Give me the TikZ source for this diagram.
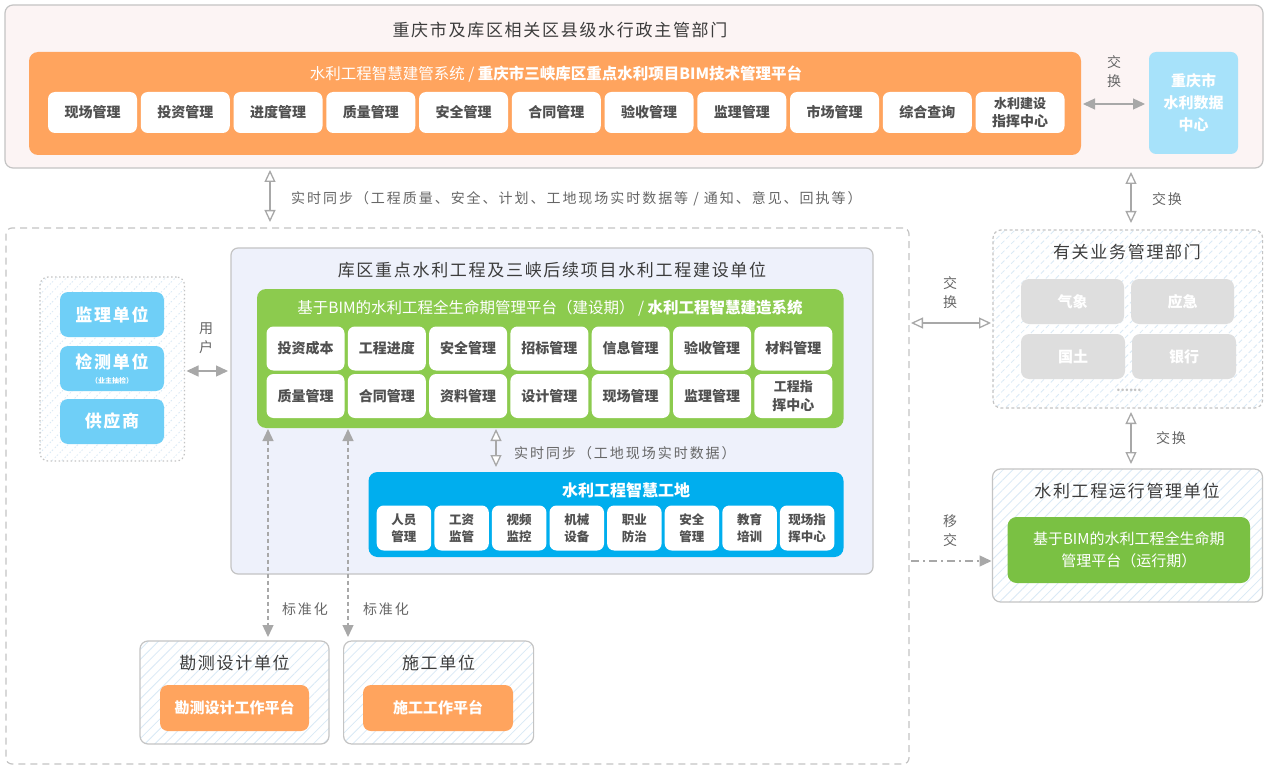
\documentclass[tikz,border=0pt]{standalone}
\usepackage{fontspec}
\setmainfont{Noto Sans CJK SC}
\newfontfamily\wide[LetterSpace=10]{Noto Sans CJK SC}
\newfontfamily\widelab[LetterSpace=14]{Noto Sans CJK SC}
\usetikzlibrary{arrows.meta,patterns.meta}
\definecolor{orangec}{HTML}{FFA45E}
\definecolor{pinkc}{HTML}{FCF4F4}
\definecolor{bordc}{HTML}{C4C4C4}
\definecolor{dcblue}{HTML}{A7E2FA}
\definecolor{unitc}{HTML}{EEF1FB}
\definecolor{greenc}{HTML}{8CCB4E}
\definecolor{bluec}{HTML}{00AEEE}
\definecolor{lbluec}{HTML}{6FCFF7}
\definecolor{hatchc}{HTML}{D9E9F6}
\definecolor{grayboxc}{HTML}{DEDEDE}
\definecolor{opgreenc}{HTML}{7AC143}
\definecolor{txtc}{HTML}{505050}
\definecolor{titlec}{HTML}{3C3C3C}
\definecolor{labc}{HTML}{666666}
\definecolor{arrc}{HTML}{A8A8A8}
\begin{document}
\begin{tikzpicture}[x=1pt,y=-1pt,
  panel/.style={rectangle,inner sep=0pt,outer sep=0pt},
  hatched/.style={preaction={fill=white},pattern={Lines[angle=45,distance=7pt,line width=0.8pt]},pattern color=hatchc},
  modbox/.style={panel,fill=white,rounded corners=7pt,text=txtc,align=center},
  topmod/.style={modbox,minimum width=89pt,minimum height=41pt,font=\fontsize{14}{18}\selectfont\bfseries},
  greenmod/.style={modbox,minimum width=78pt,minimum height=44pt,font=\fontsize{14}{19}\selectfont\bfseries},
  bluemod/.style={modbox,minimum width=54.5pt,minimum height=45pt,font=\fontsize{12.5}{17}\selectfont\bfseries},
  titletext/.style={text=titlec,font=\wide\fontsize{17}{20}\selectfont,inner sep=0pt},
  labtext/.style={text=labc,font=\widelab\fontsize{14}{19}\selectfont,inner sep=0pt,align=center},
  openarr/.style={draw=arrc,line width=1.3pt,{Triangle[open,width=11pt,length=12pt,fill=white]}-{Triangle[open,width=11pt,length=12pt,fill=white]}},
  fillarr/.style={draw=arrc,line width=1.3pt,{Triangle[width=11pt,length=12pt]}-{Triangle[width=11pt,length=12pt]}},
  lbox/.style={panel,fill=lbluec,rounded corners=8pt,minimum width=104pt,minimum height=45pt,text=white,align=center,font=\wide\fontsize{17}{20}\selectfont\bfseries},
  graybox/.style={panel,fill=grayboxc,rounded corners=8pt,minimum height=45pt,text=white,font=\fontsize{15}{18}\selectfont\bfseries},
  platbox/.style={panel,fill=orangec,rounded corners=8pt,minimum height=46pt,text=white,font=\fontsize{15}{18}\selectfont\bfseries}
]
\fill[white] (0,0) rectangle (1269,770);
\useasboundingbox (0,0) rectangle (1269,770);

% ---------- top section ----------
\node[panel,draw=bordc,line width=1.2pt,fill=pinkc,rounded corners=8pt,minimum width=1258pt,minimum height=163pt] (topbox) at (634,86.5) {};
\node[titletext] (toptitle) at (560,30) {重庆市及库区相关区县级水行政主管部门};
\node[panel,fill=orangec,rounded corners=9pt,minimum width=1052pt,minimum height=103pt] (orange) at (555,103.5) {};
\node[text=white,font=\fontsize{15.5}{18}\selectfont,inner sep=0pt] (orangetitle) at (556,74) {水利工程智慧建管系统 / \textbf{重庆市三峡库区重点水利项目BIM技术管理平台}};
\foreach \t [count=\i from 0] in {现场管理,投资管理,进度管理,质量管理,安全管理,合同管理,验收管理,监理管理,市场管理,综合查询,{\fontsize{13}{18}\selectfont 水利建设\\指挥中心}} {
  \node[topmod] (tm\i) at ({92.5+92.75*\i},112.5) {\t};
}
\node[panel,fill=dcblue,rounded corners=7pt,minimum width=89pt,minimum height=102pt,text=white,align=center,font=\fontsize{15}{22}\selectfont\bfseries] (datacenter) at (1193.5,103) {重庆市\\水利数据\\中心};
\coordinate (y104) at (0,104);
\draw[fillarr,shorten <=2pt,shorten >=4pt] (orange.east |- y104) -- (datacenter.west |- y104);
\node[labtext] (lx1) at (1114,72) {交\\换};

% ---------- middle region ----------
\node[panel,draw=bordc,line width=1.2pt,dash pattern=on 7pt off 5pt,rounded corners=6pt,minimum width=903pt,minimum height=536pt] (mid) at (457.5,496) {};

\coordinate (x270) at (270,0);
\draw[openarr,shorten <=2pt,shorten >=6pt] (topbox.south -| x270) -- (mid.north -| x270);
\node[labtext,anchor=west] (sync1) at (291,199) {实时同步（工程质量、安全、计划、工地现场实时数据等 / 通知、意见、回执等）};

% left group
\node[panel,hatched,draw=bordc,line width=1.2pt,dash pattern=on 1.5pt off 2.5pt,rounded corners=8pt,minimum width=144.5pt,minimum height=184pt] (leftbox) at (112.25,369) {};
\node[lbox] (lb1) at (112,314.5) {监理单位};
\node[lbox] (lb2) at (112,368.5) {};
\node[text=white,font=\wide\fontsize{17}{20}\selectfont\bfseries,inner sep=0pt] (lb2a) at (112,362) {检测单位};
\node[text=white,font=\fontsize{7}{8}\selectfont\bfseries,inner sep=0pt] (lb2b) at (112,381) {（业主抽检）};
\node[lbox] (lb3) at (112,421.5) {供应商};

% construction unit
\node[panel,draw=bordc,line width=1.2pt,fill=unitc,rounded corners=7pt,minimum width=642pt,minimum height=326pt] (unit) at (552,411) {};
\node[titletext] (unittitle) at (552,270) {库区重点水利工程及三峡后续项目水利工程建设单位};

\coordinate (y371) at (0,371);
\draw[fillarr,shorten <=2pt,shorten >=3pt] (leftbox.east |- y371) -- (unit.west |- y371);
\node[labtext] (luser) at (206,338) {用\\户};

\node[panel,fill=greenc,rounded corners=9pt,minimum width=586.5pt,minimum height=139pt] (green) at (550.25,358.5) {};
\node[text=white,font=\fontsize{15.5}{18}\selectfont,inner sep=0pt] (greentitle) at (550,308) {基于BIM的水利工程全生命期管理平台（建设期） / \textbf{水利工程智慧建造系统}};
\foreach \t [count=\i from 0] in {投资成本,工程进度,安全管理,招标管理,信息管理,验收管理,材料管理} {
  \node[greenmod] (ga\i) at ({305.5+81.3*\i},348.5) {\t};
}
\foreach \t [count=\i from 0] in {质量管理,合同管理,资料管理,设计管理,现场管理,监理管理,{\fontsize{13}{19}\selectfont 工程指\\挥中心}} {
  \node[greenmod] (gb\i) at ({305.5+81.3*\i},396) {\t};
}

\node[panel,fill=bluec,rounded corners=9pt,minimum width=475pt,minimum height=85pt] (blue) at (606,514.5) {};
\node[text=white,font=\fontsize{16}{18}\selectfont\bfseries,inner sep=0pt] (bluetitle) at (626,490) {水利工程智慧工地};
\foreach \t [count=\i from 0] in {{人员\\管理},{工资\\监管},{视频\\监控},{机械\\设备},{职业\\防治},{安全\\管理},{教育\\培训},{现场指\\挥中心}} {
  \node[bluemod] (bm\i) at ({403.95+57.6*\i},528) {\t};
}

\coordinate (x496) at (496,0);
\draw[openarr,shorten <=1pt,shorten >=5pt] (green.south -| x496) -- (blue.north -| x496);
\node[labtext,anchor=west] (sync2) at (514,453) {实时同步（工地现场实时数据）};

% bottom units
\node[panel,hatched,draw=bordc,line width=1.2pt,rounded corners=8pt,minimum width=189pt,minimum height=103pt] (survey) at (234.5,692.5) {};
\node[titletext] (surveytitle) at (234.5,663) {勘测设计单位};
\node[platbox,minimum width=149pt] (surveyplat) at (234.5,708) {勘测设计工作平台};
\node[panel,hatched,draw=bordc,line width=1.2pt,rounded corners=8pt,minimum width=190pt,minimum height=103pt] (const) at (438.6,692.5) {};
\node[titletext] (consttitle) at (438.6,663) {施工单位};
\node[platbox,minimum width=150pt] (constplat) at (438,708) {施工工作平台};

\coordinate (x268) at (268,0);
\coordinate (x348) at (348,0);
\draw[fillarr,dash pattern=on 4pt off 3pt,shorten <=1pt,shorten >=4pt] (green.south -| x268) -- (survey.north -| x268);
\draw[fillarr,dash pattern=on 4pt off 3pt,shorten <=1pt,shorten >=4pt] (green.south -| x348) -- (const.north -| x348);
\node[labtext] (std1) at (305,609) {标准化};
\node[labtext] (std2) at (386,609) {标准化};

% ---------- right side ----------
\node[panel,hatched,draw=bordc,line width=1.2pt,dash pattern=on 3pt off 2.5pt,rounded corners=8pt,minimum width=269.6pt,minimum height=178pt] (dept) at (1127.8,319) {};
\node[titletext] (depttitle) at (1127,252) {有关业务管理部门};
\node[graybox,minimum width=103pt] (g1) at (1072.5,301.5) {气象};
\node[graybox,minimum width=103pt] (g2) at (1182.5,301.5) {应急};
\node[graybox,minimum width=104pt] (g3) at (1073,356.5) {国土};
\node[graybox,minimum width=104pt] (g4) at (1184,356.5) {银行};
\node[text=bordc,font=\bfseries\fontsize{12}{12}\selectfont,inner sep=0pt] (gdots) at (1129,390) {......};

\node[panel,hatched,draw=bordc,line width=1.2pt,rounded corners=8pt,minimum width=270pt,minimum height=133pt] (op) at (1127.5,535.5) {};
\node[titletext] (optitle) at (1127,491) {水利工程运行管理单位};
\node[panel,fill=opgreenc,rounded corners=9pt,minimum width=242.4pt,minimum height=66pt,text=white,align=center,font=\fontsize{15}{22}\selectfont] (opgreen) at (1128.8,550) {基于BIM的水利工程全生命期\\管理平台（运行期）};

\coordinate (x1131) at (1131,0);
\draw[openarr,shorten <=4pt,shorten >=7pt] (topbox.south -| x1131) -- (dept.north -| x1131);
\node[labtext] (lx2) at (1167,199) {交换};
\draw[openarr,shorten <=4pt,shorten >=5pt] (dept.south -| x1131) -- (op.north -| x1131);
\node[labtext] (lx3) at (1171,438) {交换};

\coordinate (y323) at (0,323);
\draw[openarr,shorten <=2pt,shorten >=2pt] (mid.east |- y323) -- (dept.west |- y323);
\node[labtext] (lx4) at (950,293) {交\\换};

\coordinate (y561) at (0,561);
\draw[draw=arrc,line width=1.3pt,dash pattern=on 8pt off 4pt on 2pt off 4pt,-{Triangle[width=11pt,length=12pt]},shorten <=2pt,shorten >=1pt] (mid.east |- y561) -- (op.west |- y561);
\node[labtext] (lmove) at (950,531) {移\\交};
\end{tikzpicture}
\end{document}
